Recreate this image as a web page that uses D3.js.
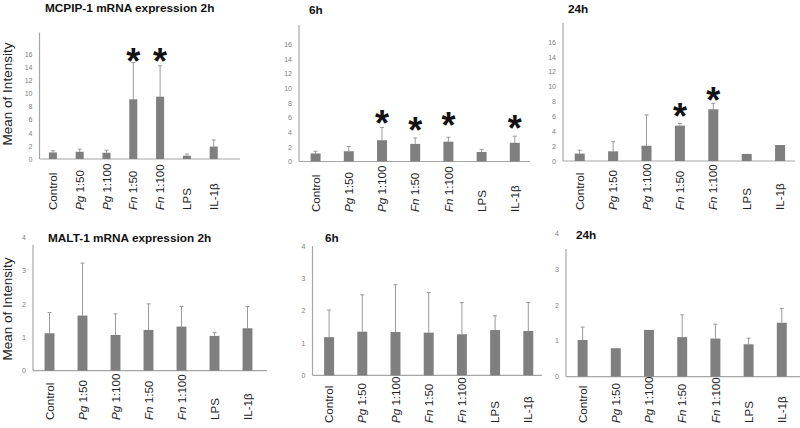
<!DOCTYPE html>
<html>
<head>
<meta charset="utf-8">
<script src="https://cdn.jsdelivr.net/npm/d3@7"></script>
<style>
  body { margin: 0; background: #fff; }
  svg { display: block; font-family: 'Liberation Sans', Arial, sans-serif; }
</style>
</head>
<body>
<svg id="chart" width="800" height="428"></svg>
<script>
// categories shared by every panel
const categories = ['Control', 'Pg 1:50', 'Pg 1:100', 'Fn 1:50', 'Fn 1:100', 'LPS', 'IL-1β'];

// MCPIP-1 mean intensity, error (+) and where the * sits (value units)
const mcpip2h = [1.0, 1.1, 0.95, 9.1, 9.5, 0.5, 1.9];
const mcpip2hErr = [0.25, 0.4, 0.4, 5.6, 4.7, 0.25, 1.0];
const mcpip2hStar = [null, null, null, 16.2, 16.2, null, null];

const mcpip6h = [1.1, 1.4, 2.9, 2.4, 2.7, 1.3, 2.55];
const mcpip6hErr = [0.3, 0.65, 1.75, 0.8, 0.6, 0.35, 0.9];
const mcpip6hStar = [null, null, 6.4, 5.5, 6.1, null, 5.8];

const mcpip24h = [1.0, 1.3, 2.05, 4.75, 6.95, 0.95, 2.15];
const mcpip24hErr = [0.45, 1.3, 4.15, 0.3, 0.8, 0, 0];
const mcpip24hStar = [null, null, null, 7.2, 9.3, null, null];

// MALT-1 mean intensity and error (+)
const malt2h = [1.12, 1.65, 1.07, 1.22, 1.32, 1.04, 1.27];
const malt2hErr = [0.62, 1.57, 0.63, 0.78, 0.6, 0.1, 0.65];

const malt6h = [1.18, 1.35, 1.34, 1.32, 1.27, 1.4, 1.37];
const malt6hErr = [0.84, 1.14, 1.46, 1.24, 0.98, 0.44, 0.88];

const malt24h = [1.02, 0.79, 1.3, 1.1, 1.06, 0.9, 1.5];
const malt24hErr = [0.36, 0, 0, 0.62, 0.4, 0.17, 0.4];

const topTicks = [0, 2, 4, 6, 8, 10, 12, 14, 16];
const bottomTicks = [0, 1, 2, 3, 4];

const titles = ['MCPIP-1 mRNA expression 2h', '6h', '24h', 'MALT-1 mRNA expression 2h', '6h', '24h'];
const yLabel = 'Mean of Intensity';

// layout of each panel (pixels)
const panels = [
  {values: mcpip2h, errs: mcpip2hErr, stars: mcpip2hStar, ticks: topTicks, yMax: 19.25,
   x0: 39.5, step: 26.8, xEnd: 240, y0: 159, yTop: 32.7, labelBottom: 210,
   title: titles[0], titleX: 45, titleY: 12, yLabelY: 94},
  {values: mcpip6h, errs: mcpip6hErr, stars: mcpip6hStar, ticks: topTicks, yMax: 18.6,
   x0: 299, step: 33.2, xEnd: 530, y0: 161.5, yTop: 25, labelBottom: 212,
   title: titles[1], titleX: 309, titleY: 14},
  {values: mcpip24h, errs: mcpip24hErr, stars: mcpip24hStar, ticks: topTicks, yMax: 18.55,
   x0: 563, step: 33.4, xEnd: 795, y0: 161, yTop: 23, labelBottom: 210,
   title: titles[2], titleX: 568, titleY: 13},
  {values: malt2h, errs: malt2hErr, stars: null, ticks: bottomTicks, yMax: 4,
   x0: 33, step: 33, xEnd: 267, y0: 370.7, yTop: 237, lineTop: 245, labelBottom: 420,
   title: titles[3], titleX: 48, titleY: 242, yLabelY: 309},
  {values: malt6h, errs: malt6hErr, stars: null, ticks: bottomTicks, yMax: 4,
   x0: 312.5, step: 33.2, xEnd: 542, y0: 375.3, yTop: 246, labelBottom: 423,
   title: titles[4], titleX: 325, titleY: 242},
  {values: malt24h, errs: malt24hErr, stars: null, ticks: bottomTicks, yMax: 4,
   x0: 566, step: 33.2, xEnd: 800, y0: 376.6, yTop: 233, lineTop: 249, labelBottom: 423,
   title: titles[5], titleX: 576, titleY: 238.5}
];

const svg = d3.select('#chart');

function drawPanel(p) {
  const g = svg.append('g');
  const x = d3.scaleBand()
    .domain(categories)
    .range([p.x0, p.x0 + p.step * categories.length]);
  const y = d3.scaleLinear()
    .domain([0, p.yMax])
    .range([p.y0, p.yTop]);
  const barW = x.bandwidth() * 0.3;
  const cx = c => x(c) + x.bandwidth() / 2;

  // tick labels only, Excel style
  g.append('g')
    .attr('transform', `translate(${p.x0},0)`)
    .call(d3.axisLeft(y).tickValues(p.ticks).tickFormat(d3.format('d')).tickSize(0).tickPadding(7))
    .call(a => a.select('.domain').remove())
    .selectAll('text')
      .attr('font-size', 7)
      .attr('font-family', "'Liberation Sans', Arial, sans-serif")
      .attr('fill', '#808080');

  g.append('line')
    .attr('x1', p.x0).attr('x2', p.x0)
    .attr('y1', y(0)).attr('y2', p.lineTop || y(p.yMax))
    .attr('stroke', '#a6a6a6').attr('stroke-width', 1.2);
  g.append('line')
    .attr('x1', p.x0).attr('x2', p.xEnd)
    .attr('y1', y(0)).attr('y2', y(0))
    .attr('stroke', '#a6a6a6').attr('stroke-width', 1.2);

  const rows = categories.map((c, i) => ({c: c, v: p.values[i], e: p.errs[i], s: p.stars ? p.stars[i] : null}));

  // error bars (drawn behind the bars)
  const eb = g.selectAll('.err').data(rows.filter(d => d.e > 0)).enter().append('g');
  eb.append('line')
    .attr('x1', d => cx(d.c)).attr('x2', d => cx(d.c))
    .attr('y1', d => y(d.v)).attr('y2', d => y(d.v + d.e))
    .attr('stroke', '#999').attr('stroke-width', 1);
  eb.append('line')
    .attr('x1', d => cx(d.c) - 2).attr('x2', d => cx(d.c) + 2)
    .attr('y1', d => y(d.v + d.e)).attr('y2', d => y(d.v + d.e))
    .attr('stroke', '#999').attr('stroke-width', 1);

  g.selectAll('.bar').data(rows).enter().append('rect')
    .attr('x', d => cx(d.c) - barW / 2)
    .attr('y', d => y(d.v))
    .attr('width', barW)
    .attr('height', d => y(0) - y(d.v))
    .attr('fill', '#7f7f7f');

  g.selectAll('.star').data(rows.filter(d => d.s != null)).enter().append('text')
    .attr('x', d => cx(d.c))
    .attr('y', d => y(d.s))
    .attr('dy', '0.6em')
    .attr('text-anchor', 'middle')
    .attr('font-size', 36)
    .attr('font-weight', 'bold')
    .attr('fill', '#111')
    .text('*');

  // rotated category labels, bottom aligned
  const lab = g.selectAll('.xl').data(categories).enter().append('text')
    .attr('transform', c => `translate(${cx(c)},${p.labelBottom}) rotate(-90)`)
    .attr('dy', '0.36em')
    .attr('font-size', 11.6)
    .attr('fill', '#222');
  lab.each(function(c) {
    const t = d3.select(this);
    const m = c.match(/^(Pg|Fn)( .*)$/);
    if (m) {
      t.append('tspan').attr('font-style', 'italic').text(m[1]);
      t.append('tspan').text(m[2]);
    } else {
      t.text(c);
    }
  });

  svg.append('text')
    .attr('x', p.titleX).attr('y', p.titleY)
    .attr('font-size', 11.8)
    .attr('font-weight', 'bold')
    .attr('fill', '#111')
    .text(p.title);

  if (p.yLabelY) {
    svg.append('text')
      .attr('transform', `translate(12,${p.yLabelY}) rotate(-90)`)
      .attr('text-anchor', 'middle')
      .attr('font-size', 13.5)
      .attr('fill', '#222')
      .text(yLabel);
  }
}

panels.forEach(drawPanel);
</script>
</body>
</html>
